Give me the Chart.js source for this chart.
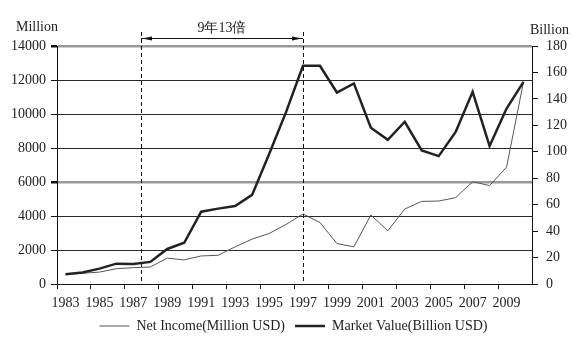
<!DOCTYPE html>
<html>
<head>
<meta charset="utf-8">
<script src="https://cdn.jsdelivr.net/npm/chart.js@4.4.1/dist/chart.umd.min.js"></script>
<style>
html,body{margin:0;padding:0;background:#fff;}
#wrap{width:587px;height:343px;position:relative;}
</style>
</head>
<body>
<div id="wrap"><canvas id="c" width="587" height="343"></canvas></div>
<script>
const years = [1983,1984,1985,1986,1987,1988,1989,1990,1991,1992,1993,1994,1995,1996,1997,1998,1999,2000,2001,2002,2003,2004,2005,2006,2007,2008,2009,2010];
const netIncome = [570,630,700,900,960,1000,1520,1420,1650,1690,2185,2640,2970,3500,4120,3620,2380,2185,4060,3130,4410,4860,4880,5080,6020,5790,6870,11890];
const marketValue = [7.4,8.7,11.6,15.4,15.2,16.7,26.5,31.2,54.7,57,59,67.4,98.2,130,165,165,144.8,151.7,118.2,109.1,122.7,101,96.7,115,145.3,104.3,132.7,152.9];
const seriesNames = ['Net Income(Million USD)','Market Value(Billion USD)'];
const leftUnit = 'Million';
const rightUnit = 'Billion';
const bracketLabel = '9年13倍';
const bracketFromYear = 1987.45;
const bracketToYear = 1997;

const FONT = "'Liberation Serif', 'DejaVu Serif', serif";

const annot = {
  id: 'annot',
  afterDatasetsDraw(chart) {
    const {ctx, chartArea, scales} = chart;
    const x1 = scales.x.getPixelForValue(bracketFromYear - years[0]);
    const x2 = scales.x.getPixelForValue(bracketToYear - years[0]);
    const yTop = chartArea.top - 14;
    const yArrow = chartArea.top - 8;
    ctx.save();
    ctx.strokeStyle = '#111';
    ctx.lineWidth = 1;
    ctx.setLineDash([4,3]);
    [x1,x2].forEach(x => {
      ctx.beginPath();
      ctx.moveTo(Math.round(x)+0.5, yTop);
      ctx.lineTo(Math.round(x)+0.5, chartArea.bottom);
      ctx.stroke();
    });
    ctx.setLineDash([]);
    ctx.beginPath();
    ctx.moveTo(x1, yArrow+0.5);
    ctx.lineTo(x2, yArrow+0.5);
    ctx.stroke();
    ctx.fillStyle = '#111';
    ctx.beginPath();
    ctx.moveTo(x1+1, yArrow+0.5); ctx.lineTo(x1+11, yArrow-1.5); ctx.lineTo(x1+11, yArrow+2.5); ctx.closePath(); ctx.fill();
    ctx.beginPath();
    ctx.moveTo(x2-1, yArrow+0.5); ctx.lineTo(x2-11, yArrow-1.5); ctx.lineTo(x2-11, yArrow+2.5); ctx.closePath(); ctx.fill();
    ctx.font = "14px " + FONT;
    ctx.fillStyle = '#222';
    ctx.textAlign = 'center';
    ctx.textBaseline = 'middle';
    ctx.fillText(bracketLabel, (x1+x2)/2, chartArea.top - 18);
    ctx.textAlign = 'left';
    ctx.fillText(leftUnit, 16, chartArea.top - 19);
    ctx.fillText(rightUnit, 530, chartArea.top - 16);
    ctx.restore();
  }
};

new Chart(document.getElementById('c'), {
  type: 'line',
  data: {
    labels: years.map(String),
    datasets: [
      {label: seriesNames[0], data: netIncome, yAxisID: 'y', borderColor: '#555', backgroundColor: '#555', borderWidth: 1, pointRadius: 0, tension: 0, order: 2},
      {label: seriesNames[1], data: marketValue, yAxisID: 'y2', borderColor: '#222', backgroundColor: '#222', borderWidth: 2.5, pointRadius: 0, tension: 0, order: 1}
    ]
  },
  options: {
    responsive: false,
    animation: false,
    devicePixelRatio: 1,
    layout: {padding: {top: 46, left: 0, right: 0, bottom: 0}},
    plugins: {
      tooltip: {enabled: false},
      legend: {
        position: 'bottom',
        labels: {
          usePointStyle: true,
          pointStyle: 'line',
          pointStyleWidth: 30,
          boxHeight: 14,
          padding: 10,
          color: '#222',
          font: {family: FONT, size: 14},
          sort: (a, b) => a.datasetIndex - b.datasetIndex
        }
      }
    },
    scales: {
      x: {
        type: 'category',
        offset: true,
        afterFit: s => { s.height = 25; },
        grid: {display: true, drawOnChartArea: false, offset: true, tickLength: 5,
          tickColor: c => (c.index % 2 === 0 ? '#111' : 'rgba(0,0,0,0)'), color: '#111'},
        border: {display: true, color: '#111', width: 1},
        ticks: {autoSkip: false, maxRotation: 0, padding: 6, color: '#222', font: {family: FONT, size: 14},
          callback: function(v, i) { return i % 2 === 0 ? this.getLabelForValue(v) : ''; }}
      },
      y: {
        position: 'left',
        min: 0, max: 14000,
        afterFit: s => { s.width = 57; },
        ticks: {stepSize: 2000, padding: 5, color: '#222', font: {family: FONT, size: 14},
          callback: v => String(v)},
        grid: {drawOnChartArea: true, tickLength: 6, tickColor: '#111',
          color: c => ((c.tick && (c.tick.value === 6000 || c.tick.value === 14000)) ? '#9a9a9a' : '#2a2a2a'),
          lineWidth: c => ((c.tick && (c.tick.value === 6000 || c.tick.value === 14000)) ? 2.5 : 1)},
        border: {display: true, color: '#111', width: 1}
      },
      y2: {
        position: 'right',
        min: 0, max: 180,
        afterFit: s => { s.width = 55; },
        ticks: {stepSize: 20, padding: 8, color: '#222', font: {family: FONT, size: 14},
          callback: v => String(v)},
        grid: {drawOnChartArea: false, tickLength: 6, tickColor: '#111'},
        border: {display: true, color: '#111', width: 1}
      }
    }
  },
  plugins: [annot]
});
</script>
</body>
</html>
